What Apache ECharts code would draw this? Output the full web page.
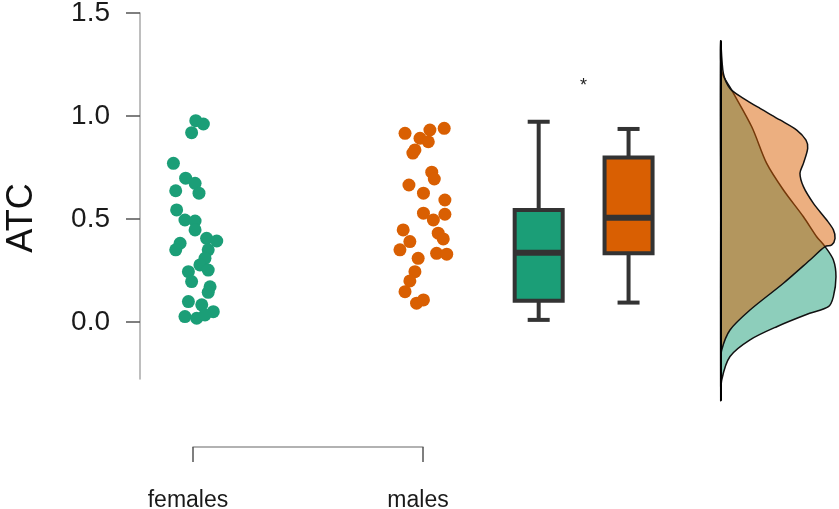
<!DOCTYPE html>
<html>
<head>
<meta charset="utf-8">
<title>ATC by sex</title>
<script src="https://cdn.jsdelivr.net/npm/echarts@6/dist/echarts.min.js"></script>
<style>
    html, body { margin: 0; padding: 0; background: #fff; }
    #main { width: 839px; height: 509px; }
</style>
</head>
<body>
<div id="main"></div>
<script>
// groups and y ticks
var groups = ['females', 'males'];
var yTicks = [0, 0.5, 1.0, 1.5];

// raw points (ATC) and their horizontal jitter
var femaleATC = [0.977, 0.961, 0.919, 0.770, 0.698, 0.673, 0.637, 0.625, 0.544, 0.495,
    0.490, 0.447, 0.406, 0.393, 0.382, 0.350, 0.350, 0.309, 0.277, 0.252,
    0.244, 0.196, 0.171, 0.144, 0.099, 0.083, 0.050, 0.026, 0.018, 0.034];
var femaleJitter = [0.012, 0.045, -0.006, -0.085, -0.032, 0.009, -0.075, 0.026, -0.071, -0.035,
    0.009, 0.009, 0.059, 0.103, -0.056, -0.075, 0.066, 0.052, 0.030, 0.066,
    -0.020, -0.006, 0.074, 0.066, -0.020, 0.038, 0.088, -0.035, 0.016, 0.052];

var maleATC = [0.916, 0.932, 0.940, 0.892, 0.875, 0.835, 0.820, 0.727, 0.694, 0.665,
    0.625, 0.592, 0.528, 0.523, 0.495, 0.447, 0.431, 0.390, 0.403, 0.350,
    0.333, 0.329, 0.309, 0.244, 0.199, 0.147, 0.091, 0.107];
var maleJitter = [-0.080, 0.028, 0.090, -0.015, 0.021, -0.037, -0.046, 0.036, 0.047, -0.063,
    0.000, 0.093, 0.000, 0.093, 0.043, -0.088, 0.064, -0.059, 0.086, -0.102,
    0.057, 0.101, -0.023, -0.037, -0.059, -0.080, -0.030, 0.000];

// box stats: min, q1, median, q3, max
var femaleBox = [0.010, 0.103, 0.336, 0.544, 0.972];
var maleBox = [0.094, 0.333, 0.506, 0.798, 0.937];

// half-violin densities, top to bottom
var femaleDensY = [1.361, 1.215, 1.126, 0.948, 0.770, 0.641, 0.511, 0.414, 0.366, 0.301,
    0.220, 0.123, 0.074, 0.042, -0.023, -0.087, -0.168, -0.282, -0.379];
var femaleDens = [0, 0.014, 0.153, 0.431, 0.639, 0.871, 1.149, 1.333, 1.449, 1.565,
    1.601, 1.565, 1.496, 1.236, 0.778, 0.407, 0.129, 0.014, 0];

var maleDensY = [1.361, 1.207, 1.134, 1.086, 1.037, 0.981, 0.932, 0.883, 0.843, 0.770,
    0.722, 0.657, 0.576, 0.495, 0.447, 0.406, 0.374, 0.366, 0.301, 0.188,
    0.058, -0.039, -0.136, -0.200, -0.310];
var maleDens = [0, 0.037, 0.129, 0.315, 0.546, 0.824, 1.056, 1.185, 1.208, 1.149,
    1.101, 1.149, 1.288, 1.472, 1.565, 1.588, 1.542, 1.449, 1.240, 0.871,
    0.407, 0.129, 0.014, 0.004, 0];

var green = '#1b9e77', orange = '#d95f02';
var font = 'Liberation Sans, Arial, sans-serif';

// where things sit on the hidden x axis of the main grid
var groupPos = [1, 2];
var boxPos = [2.5, 2.89];

var chart = echarts.init(document.getElementById('main'));

function jittered(vals, jit, centre) {
    return vals.map(function (v, i) { return [centre + jit[i], v]; });
}

function renderBox(params, api) {
    var x = api.value(0);
    var lo = api.coord([x, api.value(1)]);
    var q1 = api.coord([x, api.value(2)]);
    var md = api.coord([x, api.value(3)]);
    var q3 = api.coord([x, api.value(4)]);
    var hi = api.coord([x, api.value(5)]);
    var cx = lo[0], hw = 24, cw = 11;
    var ln = { stroke: '#333', lineWidth: 4 };
    return {
        type: 'group',
        children: [
            { type: 'line', shape: { x1: cx, y1: hi[1], x2: cx, y2: q3[1] }, style: ln },
            { type: 'line', shape: { x1: cx, y1: q1[1], x2: cx, y2: lo[1] }, style: ln },
            { type: 'line', shape: { x1: cx - cw, y1: hi[1], x2: cx + cw, y2: hi[1] }, style: ln },
            { type: 'line', shape: { x1: cx - cw, y1: lo[1], x2: cx + cw, y2: lo[1] }, style: ln },
            { type: 'rect', shape: { x: cx - hw, y: q3[1], width: hw * 2, height: q1[1] - q3[1] },
                style: { fill: api.visual('color'), stroke: '#333', lineWidth: 4 } },
            { type: 'line', shape: { x1: cx - hw, y1: md[1], x2: cx + hw, y2: md[1] },
                style: { stroke: '#333', lineWidth: 6 } }
        ]
    };
}

// one closed shape per density, drawn on the first item only
function densityRender(ys, ds, fill) {
    return function (params, api) {
        if (params.dataIndex !== 0) return;
        var pts = ys.map(function (y, i) { return api.coord([ds[i], y]); });
        pts.push(api.coord([0, (ys[0] + ys[ys.length - 1]) / 2]));
        return {
            type: 'polygon',
            shape: { points: pts, smooth: 0.3 },
            style: { fill: fill, stroke: '#111', lineWidth: 1.5 }
        };
    };
}

var option = {
    animation: false,
    grid: [
        { left: 140, right: 139, top: 13, bottom: 130, outerBoundsMode: 'none' },
        { left: 193, right: 416, top: 400, bottom: 62, outerBoundsMode: 'none' },
        { left: 720.7, right: 0, top: 41.7, bottom: 109, outerBoundsMode: 'none' }
    ],
    xAxis: [
        { gridIndex: 0, type: 'value', min: 0.77, max: 3.2, show: false },
        {
            gridIndex: 1, type: 'category', data: groups, boundaryGap: false,
            axisLine: { lineStyle: { color: '#999', width: 1.5 } },
            axisTick: { length: 15, lineStyle: { color: '#555', width: 1.5 } },
            axisLabel: { margin: 42, fontSize: 23, color: '#1a1a1a', fontFamily: font,
                padding: [0, 10, 0, 0] }
        },
        { gridIndex: 2, type: 'value', min: 0, max: 1.643, show: false }
    ],
    yAxis: [
        {
            gridIndex: 0, type: 'value', min: -0.277, max: 1.5,
            name: 'ATC', nameLocation: 'middle', nameGap: 100,
            // right padding (upwards once rotated) pulls the name down towards 0.5
            nameTextStyle: { fontSize: 36, color: '#111', fontFamily: font,
                padding: [0, 44, 0, 0] },
            splitLine: { show: false },
            axisLine: { show: true, lineStyle: { color: '#a8a8a8', width: 1.5 } },
            axisTick: { show: true, length: 14, customValues: yTicks,
                lineStyle: { color: '#555', width: 1.5 } },
            axisLabel: {
                margin: 30, fontSize: 28, color: '#1a1a1a', fontFamily: font,
                customValues: yTicks,
                formatter: function (v) { return v.toFixed(1); }
            }
        },
        { gridIndex: 1, type: 'value', show: false },
        {
            gridIndex: 2, type: 'value', min: -0.379, max: 1.361, z: 5,
            splitLine: { show: false },
            axisLine: { show: true, lineStyle: { color: '#000', width: 2 } },
            axisTick: { show: false },
            axisLabel: { show: false }
        }
    ],
    series: [
        {
            name: 'females', type: 'scatter', xAxisIndex: 0, yAxisIndex: 0,
            symbolSize: 13, itemStyle: { color: green, opacity: 1 },
            data: jittered(femaleATC, femaleJitter, groupPos[0])
        },
        {
            name: 'males', type: 'scatter', xAxisIndex: 0, yAxisIndex: 0,
            symbolSize: 13, itemStyle: { color: orange, opacity: 1 },
            data: jittered(maleATC, maleJitter, groupPos[1])
        },
        {
            name: 'box', type: 'custom', xAxisIndex: 0, yAxisIndex: 0,
            renderItem: renderBox,
            encode: { x: 0, y: [1, 2, 3, 4, 5] },
            data: [
                { value: [boxPos[0]].concat(femaleBox), itemStyle: { color: green } },
                { value: [boxPos[1]].concat(maleBox), itemStyle: { color: orange } }
            ]
        },
        {
            name: 'sig', type: 'custom', xAxisIndex: 0, yAxisIndex: 0,
            renderItem: function (params, api) {
                var p = api.coord([api.value(0), api.value(1)]);
                return {
                    type: 'text', x: p[0], y: p[1],
                    style: { text: '*', fontSize: 18, fill: '#222', fontFamily: font,
                        align: 'center', verticalAlign: 'middle' }
                };
            },
            data: [[(boxPos[0] + boxPos[1]) / 2, 1.146]]
        },
        {
            name: 'females density', type: 'custom', xAxisIndex: 2, yAxisIndex: 2,
            renderItem: densityRender(femaleDensY, femaleDens, 'rgba(27,158,119,0.5)'),
            data: femaleDens.map(function (d, i) { return [d, femaleDensY[i]]; })
        },
        {
            name: 'males density', type: 'custom', xAxisIndex: 2, yAxisIndex: 2,
            renderItem: densityRender(maleDensY, maleDens, 'rgba(217,95,2,0.5)'),
            data: maleDens.map(function (d, i) { return [d, maleDensY[i]]; })
        }
    ]
};
chart.setOption(option);

window.onresize = function () {
    chart.resize();
};
</script>
</body>
</html>
